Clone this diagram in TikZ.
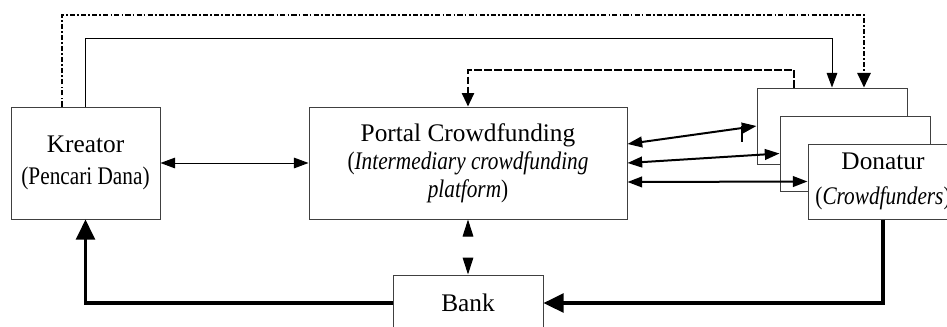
\documentclass[tikz,border=0pt]{standalone}
\usepackage{fontspec}
\setmainfont{Liberation Serif}
\usetikzlibrary{arrows.meta}
\newcommand{\squeeze}[1]{\scalebox{0.84}[1]{#1}}
\tikzset{
  box/.style={draw=black!75, line width=0.75pt, fill=white, inner sep=0pt, align=center,
    font=\fontsize{19}{21}\selectfont},
  thinline/.style={line width=0.75pt},
  medline/.style={line width=1.5pt},
  thickline/.style={line width=2.7pt},
  dashdotline/.style={line width=1.5pt, dash pattern=on 3.8pt off 1.6pt on 1.3pt off 1.6pt},
  dashline/.style={line width=1.5pt, dash pattern=on 5.5pt off 2pt},
  bigtip/.style={-{Triangle[length=15pt,width=14pt]}}
}

\begin{document}
\begin{tikzpicture}[x=0.75pt, y=-0.75pt, >={Triangle[length=11pt,width=8pt]}]
			%%%%% START %%%%%
			\clip (0,0) rectangle (947,326);
			
			\node[box, minimum width=111.75pt, minimum height=84pt] (kreator) at (85.5,163) {Kreator\\[3pt]\squeeze{(Pencari Dana)}};
			\node[box, minimum width=238.5pt, minimum height=84pt] (portal) at (468,163) {Portal Crowdfunding\\\squeeze{(\textit{Intermediary crowdfunding}}\\\squeeze{\textit{platform})}};
			\node[box, minimum width=112.5pt, minimum height=42pt] (bank) at (468,303) {Bank};
			
			\node[box, minimum width=112.5pt, minimum height=57pt] (donor1) at (832,126) {};
			\node[box, minimum width=112.5pt, minimum height=56.25pt] (donor2) at (855,153.5) {};
			\node[box, minimum width=112.5pt, minimum height=56.25pt] (donor3) at (883,181.5) {Donatur\\[5pt]\squeeze{(\textit{Crowdfunders})}};
			
			\coordinate (kdd) at ([xshift=-17.6pt]kreator.north);
			\coordinate (ddd) at ([xshift=24pt]donor1.north);
			\coordinate (ddash) at ([xshift=-28.5pt]donor1.north);
			\coordinate (tick) at ([xshift=-11.25pt]donor1.west);
			
			\draw[dashdotline, ->, >={Triangle[length=11pt,width=10pt]}] (kdd) -- (kdd |- 0,15) -| (ddd);
			\draw[thinline, ->] (kreator.north) -- (kreator.north |- 0,38) -| (donor1.north);
			\draw[dashline, ->, >={Triangle[length=10pt,width=9pt]}] (ddash) -- (ddash |- 0,70) -| (portal.north);
			
			\draw[thinline, <->] (kreator) -- (portal);
			\draw[thinline, dash pattern=on 0pt off 100pt, <->, >={Triangle[length=12.75pt,width=8pt]}] (portal.south) -- (bank.north);
			
			\draw[medline, <->] ([yshift=14.25pt]portal.east) -- (donor1.west);
			\draw[medline] (tick) -- ++(0,16);
			\draw[medline, <->] (portal.east) -- (donor2.west);
			\draw[medline, <->] ([yshift=-14.25pt]portal.east) -- (donor3.west);
			
			\draw[thickline, bigtip] (donor3.south) |- (bank.east);
			\draw[thickline, bigtip] (bank.west) -| (kreator.south);
			
			%%%%% END %%%%%
\end{tikzpicture}
\end{document}
